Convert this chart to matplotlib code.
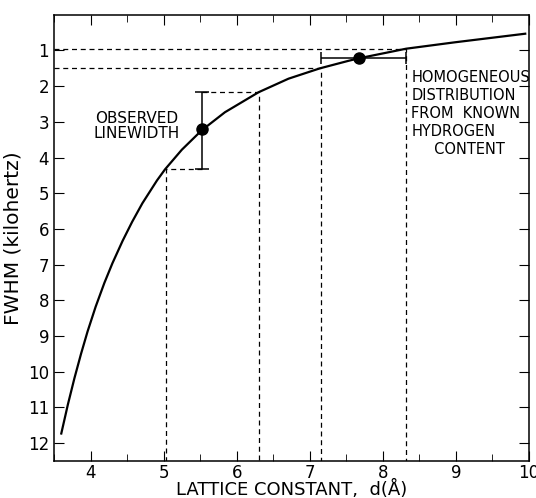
import matplotlib
matplotlib.use("Agg")
import matplotlib.pyplot as plt
import numpy as np

# curve: lattice constant (A) vs FWHM (kHz)
d_curve = [3.60, 3.69, 3.78, 3.87, 3.96, 4.07, 4.19, 4.30, 4.44, 4.57, 4.71, 4.91,
           5.02, 5.25, 5.52, 5.84, 6.30, 6.71, 7.14, 7.53, 7.67, 8.32, 8.99, 9.95]
fwhm_curve = [11.73, 10.92, 10.18, 9.50, 8.87, 8.18, 7.51, 6.96, 6.33, 5.80, 5.28, 4.64,
              4.33, 3.78, 3.24, 2.73, 2.17, 1.79, 1.50, 1.29, 1.22, 0.95, 0.77, 0.53]

# observed linewidth with error bar
obs_d = 5.53
obs_fwhm = 3.2
obs_lo, obs_hi = 2.15, 4.32
obs_d_lo, obs_d_hi = 5.03, 6.30

# homogeneous distribution point with range in d
hom_d = 7.67
hom_fwhm = 1.21
hom_d_lo, hom_d_hi = 7.15, 8.32
hom_f_lo, hom_f_hi = 1.49, 0.95

XLIM = (3.5, 10)
YLIM = (12.5, 0)

fig = plt.figure(figsize=(5.36, 4.98), dpi=100)
ax = fig.add_axes([0.1007, 0.0743, 0.886, 0.896])

ax.plot(d_curve, fwhm_curve, color="black", lw=1.6)

dash = dict(color="black", lw=0.9, ls=(0, (4, 3)))

# observed linewidth construction
ax.errorbar([obs_d], [obs_fwhm], yerr=[[obs_fwhm - obs_lo], [obs_hi - obs_fwhm]],
            fmt="o", color="black", ms=8, elinewidth=1.1, capsize=5, capthick=1.1)
ax.plot([obs_d, obs_d_hi, obs_d_hi], [obs_lo, obs_lo, YLIM[0]], **dash)
ax.plot([obs_d, obs_d_lo, obs_d_lo], [obs_hi, obs_hi, YLIM[0]], **dash)

# homogeneous distribution construction
ax.errorbar([hom_d], [hom_fwhm], xerr=[[hom_d - hom_d_lo], [hom_d_hi - hom_d]],
            fmt="o", color="black", ms=8, elinewidth=1.1, capsize=4, capthick=1.1)
ax.plot([XLIM[0], hom_d_lo, hom_d_lo], [hom_f_lo, hom_f_lo, YLIM[0]], **dash)
ax.plot([XLIM[0], hom_d_hi, hom_d_hi], [hom_f_hi, hom_f_hi, YLIM[0]], **dash)

ax.text(4.63, 3.11, "OBSERVED\nLINEWIDTH", ha="center", va="center",
        fontsize=11, linespacing=1.0)
ax.text(8.39, 2.76, "HOMOGENEOUS\nDISTRIBUTION\nFROM  KNOWN\nHYDROGEN\n     CONTENT",
        ha="left", va="center", fontsize=10.5, linespacing=1.25)

ax.set_xlim(XLIM)
ax.set_ylim(YLIM)
ax.set_xticks(range(4, 11))
ax.set_xticks(np.arange(3.5, 10.01, 0.5), minor=True)
ax.set_yticks(range(1, 13))
ax.tick_params(which="both", direction="in", top=True, right=True, labelsize=12)
ax.tick_params(which="major", length=7)
ax.tick_params(which="minor", length=5)
ax.tick_params(axis="x", pad=2)
for s in ax.spines.values():
    s.set_linewidth(1.1)

ax.set_xlabel("LATTICE CONSTANT,  d(Å)", fontsize=13, labelpad=-1)
ax.set_ylabel("FWHM (kilohertz)", fontsize=14.5, labelpad=4)

fig.savefig("out.png", dpi=100)
